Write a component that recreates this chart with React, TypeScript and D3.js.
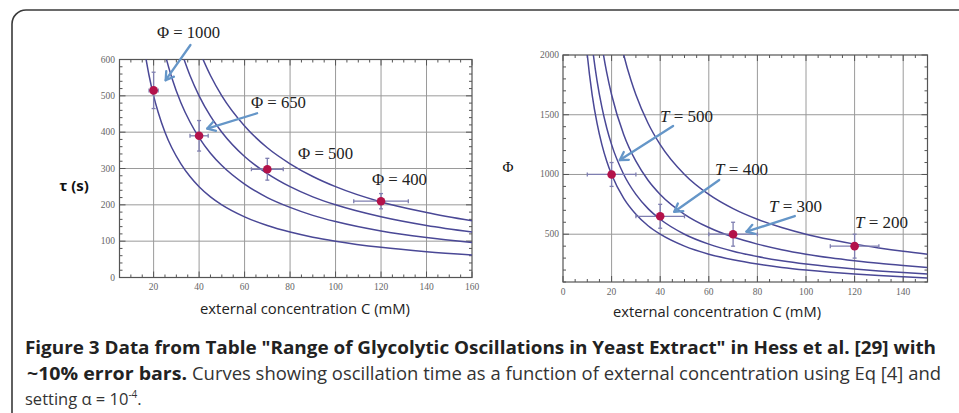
import React from "react";
import * as d3 from "d3";

// ---------- Data ----------
// Left panel: tau (s) vs C (mM), one curve per Phi
const leftPhiLabels = ["Φ = 1000", "Φ = 650", "Φ = 500", "Φ = 400"];
const leftCurvePhi1000: [number, number][] = [[16, 625], [18, 556], [20, 500], [22, 455], [25, 400], [28, 357], [32, 313], [36, 278], [40, 250], [45, 222], [50, 200], [60, 167], [70, 143], [80, 125], [90, 111], [100, 100], [120, 83], [140, 71], [160, 62]];
const leftCurvePhi650: [number, number][] = [[24, 642], [25, 616], [28, 550], [32, 481], [36, 428], [40, 385], [45, 342], [50, 308], [60, 257], [70, 220], [80, 193], [90, 171], [100, 154], [120, 128], [140, 110], [160, 96]];
const leftCurvePhi500: [number, number][] = [[32, 625], [36, 556], [40, 500], [45, 444], [50, 400], [60, 333], [70, 286], [80, 250], [90, 222], [100, 200], [120, 167], [140, 143], [160, 125]];
const leftCurvePhi400: [number, number][] = [[40, 625], [45, 556], [50, 500], [60, 417], [70, 357], [80, 313], [90, 278], [100, 250], [120, 208], [140, 179], [160, 156]];
const leftPointsC = [20, 40, 70, 120];
const leftPointsTau = [515, 390, 298, 210];
const leftErrC = [2, 4, 7, 12];
const leftErrTau = [50, 42, 30, 21];
const leftXTicks = [20, 40, 60, 80, 100, 120, 140, 160];
const leftYTicks = [0, 100, 200, 300, 400, 500, 600];

// Right panel: Phi vs C, one curve per T
const rightTLabels = ["500", "400", "300", "200"];
const rightCurveT500: [number, number][] = [[9, 2222], [10, 2000], [12, 1667], [14, 1429], [16, 1250], [18, 1111], [20, 1000], [25, 800], [30, 667], [35, 571], [40, 500], [50, 400], [60, 333], [70, 286], [80, 250], [90, 222], [100, 200], [110, 182], [120, 167], [130, 154], [140, 143], [150, 133]];
const rightCurveT400: [number, number][] = [[11, 2273], [12, 2083], [14, 1786], [16, 1563], [18, 1389], [20, 1250], [25, 1000], [30, 833], [35, 714], [40, 625], [50, 500], [60, 417], [70, 357], [80, 313], [90, 278], [100, 250], [110, 227], [120, 208], [130, 192], [140, 179], [150, 167]];
const rightCurveT300: [number, number][] = [[15, 2222], [16, 2083], [18, 1852], [20, 1667], [25, 1333], [30, 1111], [35, 952], [40, 833], [50, 667], [60, 556], [70, 476], [80, 417], [90, 370], [100, 333], [110, 303], [120, 278], [130, 256], [140, 238], [150, 222]];
const rightCurveT200: [number, number][] = [[23, 2174], [25, 2000], [28, 1786], [30, 1667], [35, 1429], [40, 1250], [50, 1000], [60, 833], [70, 714], [80, 625], [90, 556], [100, 500], [110, 455], [120, 417], [130, 385], [140, 357], [150, 333]];
const rightPointsC = [20, 40, 70, 120];
const rightPointsPhi = [1000, 650, 500, 400];
const rightErrC = [10, 10, 10, 10];
const rightErrPhi = [100, 100, 100, 100];
const rightXTicks = [0, 20, 40, 60, 80, 100, 120, 140];
const rightYTicks = [500, 1000, 1500, 2000];

// annotation arrows and labels, in data coordinates
const leftArrows: [number, number, number, number][] = [[36.2, 640, 25.3, 543], [65.5, 452, 43.6, 410]];
const leftLabelPos: [number, number][] = [[21.5, 659], [62.8, 466], [83.5, 326], [116, 255]];
const rightArrows: [number, number, number, number][] = [[45.3, 1406, 23.4, 1121], [64.3, 954, 45.8, 688], [95.4, 652, 75.5, 521]];
const rightLabelPos: [number, number][] = [[39.9, 1439], [62.6, 996], [84.8, 686], [120.2, 552]];

const W = 959;
const H = 413;

const CURVE = "#4a4896";
const GRID = "#9a9a9a";
const FRAME = "#555";
const POINT = "#b3124a";
const ERR = "#7e7eb0";
const ARROW = "#6596c8";
const serif = "'Liberation Serif', 'Times New Roman', serif";
const sans = "'Open Sans', 'Noto Sans', sans-serif";
const caption = "'Open Sans', 'Noto Sans', sans-serif";

type Scale = d3.ScaleLinear<number, number>;

function Frame({ x, y, xMinorStep, yMinorStep, xMajor, yMajor, id }: { x: Scale; y: Scale; xMinorStep: number; yMinorStep: number; xMajor: number[]; yMajor: number[]; id: string }) {
  const [x0, x1] = x.range();
  const [y0, y1] = y.range();
  const [dx0, dx1] = x.domain();
  const [dy0, dy1] = y.domain();
  const xMinor = d3.range(Math.ceil(dx0 / xMinorStep) * xMinorStep, dx1 + 0.001, xMinorStep);
  const yMinor = d3.range(Math.ceil(dy0 / yMinorStep) * yMinorStep, dy1 + 0.001, yMinorStep);
  const maj = 6, min = 3;
  return (
    <g>
      {xMajor.filter((v) => x(v) > x0 + 1 && x(v) < x1 - 1).map((v) => (
        <line key={id + "gx" + v} x1={x(v)} x2={x(v)} y1={y0} y2={y1} stroke={GRID} strokeWidth={1} />
      ))}
      {yMajor.filter((v) => y(v) < y0 - 1 && y(v) > y1 + 1).map((v) => (
        <line key={id + "gy" + v} x1={x0} x2={x1} y1={y(v)} y2={y(v)} stroke={GRID} strokeWidth={1} />
      ))}
      {xMinor.map((v) => {
        const isMaj = xMajor.includes(v);
        const l = isMaj ? maj : min;
        return (
          <g key={id + "tx" + v}>
            <line x1={x(v)} x2={x(v)} y1={y0} y2={y0 - l} stroke={FRAME} strokeWidth={1} />
            <line x1={x(v)} x2={x(v)} y1={y1} y2={y1 + l} stroke={FRAME} strokeWidth={1} />
          </g>
        );
      })}
      {yMinor.map((v) => {
        const isMaj = yMajor.includes(v);
        const l = isMaj ? maj : min;
        return (
          <g key={id + "ty" + v}>
            <line x1={x0} x2={x0 + l} y1={y(v)} y2={y(v)} stroke={FRAME} strokeWidth={1} />
            <line x1={x1} x2={x1 - l} y1={y(v)} y2={y(v)} stroke={FRAME} strokeWidth={1} />
          </g>
        );
      })}
      <rect x={x0} y={y1} width={x1 - x0} height={y0 - y1} fill="none" stroke={FRAME} strokeWidth={1.2} />
    </g>
  );
}

function Arrow({ a, x, y }: { a: [number, number, number, number]; x: Scale; y: Scale }) {
  const fx = x(a[0]), fy = y(a[1]), tx = x(a[2]), ty = y(a[3]);
  const ang = Math.atan2(ty - fy, tx - fx);
  const hl = 9;
  const spread = 0.55;
  const h1x = tx - hl * Math.cos(ang - spread), h1y = ty - hl * Math.sin(ang - spread);
  const h2x = tx - hl * Math.cos(ang + spread), h2y = ty - hl * Math.sin(ang + spread);
  return (
    <g stroke={ARROW} strokeWidth={2.3} fill="none" strokeLinecap="round" strokeLinejoin="round">
      <line x1={fx} y1={fy} x2={tx} y2={ty} />
      <polyline points={`${h1x},${h1y} ${tx},${ty} ${h2x},${h2y}`} />
    </g>
  );
}

function Points({ cs, vs, ec, ev, x, y }: { cs: number[]; vs: number[]; ec: number[]; ev: number[]; x: Scale; y: Scale }) {
  return (
    <g>
      {cs.map((c, i) => (
        <g key={"p" + i}>
          <line x1={x(c - ec[i])} x2={x(c + ec[i])} y1={y(vs[i])} y2={y(vs[i])} stroke={ERR} strokeWidth={1.3} />
          <line x1={x(c - ec[i])} x2={x(c - ec[i])} y1={y(vs[i]) - 2} y2={y(vs[i]) + 2} stroke={ERR} strokeWidth={1.3} />
          <line x1={x(c + ec[i])} x2={x(c + ec[i])} y1={y(vs[i]) - 2} y2={y(vs[i]) + 2} stroke={ERR} strokeWidth={1.3} />
          <line x1={x(c)} x2={x(c)} y1={y(vs[i] - ev[i])} y2={y(vs[i] + ev[i])} stroke={ERR} strokeWidth={1.3} />
          <line x1={x(c) - 2} x2={x(c) + 2} y1={y(vs[i] - ev[i])} y2={y(vs[i] - ev[i])} stroke={ERR} strokeWidth={1.3} />
          <line x1={x(c) - 2} x2={x(c) + 2} y1={y(vs[i] + ev[i])} y2={y(vs[i] + ev[i])} stroke={ERR} strokeWidth={1.3} />
          <circle cx={x(c)} cy={y(vs[i])} r={4.3} fill={POINT} />
        </g>
      ))}
    </g>
  );
}

export default function App() {
  // left panel scales
  const lx = d3.scaleLinear().domain([5, 160]).range([119.5, 472]);
  const ly = d3.scaleLinear().domain([0, 600]).range([277.5, 59.5]);
  // right panel scales
  const rx = d3.scaleLinear().domain([0, 150]).range([563, 927.5]);
  const ry = d3.scaleLinear().domain([100, 2000]).range([282, 55]);

  const lLine = d3.line<[number, number]>().x((d) => lx(d[0])).y((d) => ly(d[1])).curve(d3.curveMonotoneX);
  const rLine = d3.line<[number, number]>().x((d) => rx(d[0])).y((d) => ry(d[1])).curve(d3.curveMonotoneX);

  const leftCurves = [leftCurvePhi1000, leftCurvePhi650, leftCurvePhi500, leftCurvePhi400];
  const rightCurves = [rightCurveT500, rightCurveT400, rightCurveT300, rightCurveT200];

  return (
    <svg width={W} height={H} style={{ position: "absolute", left: 0, top: 0, background: "#fff" }} xmlns="http://www.w3.org/2000/svg">
      <defs>
        <clipPath id="clipL">
          <rect x={lx.range()[0]} y={ly.range()[1]} width={lx.range()[1] - lx.range()[0]} height={ly.range()[0] - ly.range()[1]} />
        </clipPath>
        <clipPath id="clipR">
          <rect x={rx.range()[0]} y={ry.range()[1]} width={rx.range()[1] - rx.range()[0]} height={ry.range()[0] - ry.range()[1]} />
        </clipPath>
      </defs>
      <rect x={0} y={0} width={W} height={H} fill="#fff" />
      {/* card border */}
      <rect x={12} y={10} width={W + 40} height={H + 40} rx={14} ry={14} fill="none" stroke="#3a3a3a" strokeWidth={1.6} />

      {/* ---------- left panel ---------- */}
      <Frame x={lx} y={ly} xMinorStep={5} yMinorStep={20} xMajor={leftXTicks} yMajor={leftYTicks} id="L" />
      <g clipPath="url(#clipL)">
        {leftCurves.map((c, i) => (
          <path key={"lc" + i} d={lLine(c) || ""} fill="none" stroke={CURVE} strokeWidth={1.5} />
        ))}
      </g>
      <Points cs={leftPointsC} vs={leftPointsTau} ec={leftErrC} ev={leftErrTau} x={lx} y={ly} />
      {leftXTicks.map((v) => (
        <text key={"lxt" + v} x={lx(v)} y={290} fontSize={9.5} fontFamily={serif} fill="#666" textAnchor="middle">{v}</text>
      ))}
      {leftYTicks.map((v) => (
        <text key={"lyt" + v} x={115} y={ly(v) + 3} fontSize={9.5} fontFamily={serif} fill="#666" textAnchor="end">{v}</text>
      ))}
      <text x={74} y={191} fontSize={15} fontWeight="bold" fontFamily={sans} fill="#111" textAnchor="middle">τ (s)</text>
      <text x={305} y={314} fontSize={14} fontFamily={sans} fill="#222" textAnchor="middle" textLength={210} lengthAdjust="spacingAndGlyphs">external concentration C (mM)</text>
      {leftArrows.map((a, i) => <Arrow key={"la" + i} a={a} x={lx} y={ly} />)}
      {leftPhiLabels.map((t, i) => (
        <text key={"ll" + i} x={lx(leftLabelPos[i][0])} y={ly(leftLabelPos[i][1])} fontSize={16} fontFamily={serif} fill="#222" textLength={i === 0 ? 63 : 55} lengthAdjust="spacingAndGlyphs">{t}</text>
      ))}

      {/* ---------- right panel ---------- */}
      <Frame x={rx} y={ry} xMinorStep={5} yMinorStep={100} xMajor={rightXTicks} yMajor={rightYTicks} id="R" />
      <g clipPath="url(#clipR)">
        {rightCurves.map((c, i) => (
          <path key={"rc" + i} d={rLine(c) || ""} fill="none" stroke={CURVE} strokeWidth={1.5} />
        ))}
      </g>
      <Points cs={rightPointsC} vs={rightPointsPhi} ec={rightErrC} ev={rightErrPhi} x={rx} y={ry} />
      {rightXTicks.map((v) => (
        <text key={"rxt" + v} x={rx(v)} y={295} fontSize={9.5} fontFamily={serif} fill="#666" textAnchor="middle">{v}</text>
      ))}
      {rightYTicks.map((v) => (
        <text key={"ryt" + v} x={559} y={ry(v) + 3} fontSize={9.5} fontFamily={serif} fill="#666" textAnchor="end">{v}</text>
      ))}
      <text x={508} y={172} fontSize={15} fontFamily={serif} fill="#111" textAnchor="middle">Φ</text>
      <text x={717} y={317} fontSize={14} fontFamily={sans} fill="#222" textAnchor="middle" textLength={208} lengthAdjust="spacingAndGlyphs">external concentration C (mM)</text>
      {rightArrows.map((a, i) => <Arrow key={"ra" + i} a={a} x={rx} y={ry} />)}
      {rightTLabels.map((t, i) => (
        <text key={"rl" + i} x={rx(rightLabelPos[i][0])} y={ry(rightLabelPos[i][1])} fontSize={16} fontFamily={serif} fill="#222" textLength={53} lengthAdjust="spacingAndGlyphs">
          <tspan fontStyle="italic">T</tspan> = {t}
        </text>
      ))}

      {/* ---------- caption ---------- */}
      <text x={25} y={354} fontSize={18} fontWeight="bold" fontFamily={caption} fill="#222" textLength={911} lengthAdjust="spacingAndGlyphs">
        Figure 3 Data from Table "Range of Glycolytic Oscillations in Yeast Extract" in Hess et al. [29] with
      </text>
      <text x={27} y={380} fontSize={18} fontWeight="bold" fontFamily={caption} fill="#222" textLength={160} lengthAdjust="spacingAndGlyphs">
        ~10% error bars.
      </text>
      <text x={192} y={380} fontSize={18} fontFamily={caption} fill="#333" textLength={749} lengthAdjust="spacingAndGlyphs">
        Curves showing oscillation time as a function of external concentration using Eq [4] and
      </text>
      <text x={25} y={405} fontSize={16.5} fontFamily={caption} fill="#333">
        setting α = 10<tspan dy={-7} fontSize={10}>-4</tspan><tspan dy={7}>.</tspan>
      </text>
    </svg>
  );
}
